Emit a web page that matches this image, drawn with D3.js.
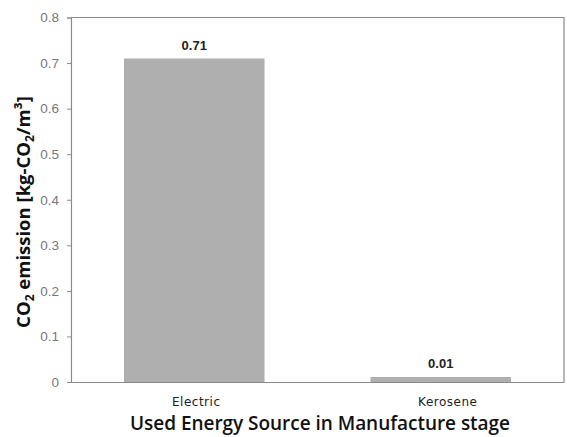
<!DOCTYPE html>
<html><head><meta charset="utf-8">
<script src="https://cdn.jsdelivr.net/npm/d3@7"></script>
<style>body{margin:0;background:#fff;} svg{display:block;}</style>
</head><body>
<svg id="c" width="567" height="437"></svg>
<script>
const categories = ["Electric", "Kerosene"];
const values = [0.71, 0.011];
const valueLabels = ["0.71", "0.01"];
const yTicks = [0, 0.1, 0.2, 0.3, 0.4, 0.5, 0.6, 0.7, 0.8];

const svg = d3.select("#c");
const m = {left: 71, top: 17.5, right: 564, bottom: 382};
const x = d3.scaleBand().domain(categories).range([m.left, m.right]).paddingInner(0.43).paddingOuter(0.215);
const y = d3.scaleLinear().domain([0, 0.8]).range([m.bottom, m.top]);

svg.append("path").attr("d", `M${m.left},${m.top}H${m.right}V${m.bottom}`)
  .attr("fill", "none").attr("stroke", "#8a8a8a").attr("stroke-width", 1.2);

svg.selectAll("rect.bar").data(categories).enter().append("rect")
  .attr("class", "bar")
  .attr("x", d => x(d))
  .attr("width", x.bandwidth())
  .attr("y", (d, i) => y(values[i]))
  .attr("height", (d, i) => y(0) - y(values[i]))
  .attr("fill", "#afafaf");

const ya = svg.append("g").attr("transform", `translate(${m.left},0)`)
  .call(d3.axisLeft(y).tickValues(yTicks).tickSize(4).tickPadding(8).tickFormat(d => d === 0 ? "0" : d3.format(".1f")(d)));
ya.select(".domain").attr("stroke", "#8a8a8a").attr("stroke-width", 1.2);
ya.selectAll(".tick line").attr("stroke", "#8a8a8a");
ya.selectAll(".tick text").attr("fill", "#777").attr("font-size", 13.5).attr("font-family", "Liberation Sans, Arial, sans-serif");

const xa = svg.append("g").attr("transform", `translate(0,${m.bottom})`)
  .call(d3.axisBottom(x).tickSize(0).tickPadding(0));
xa.select(".domain").attr("stroke", "#8a8a8a").attr("stroke-width", 1.2);
xa.selectAll(".tick text").attr("fill", "#222").attr("font-size", 12)
  .attr("font-family", "DejaVu Sans, sans-serif").attr("letter-spacing", 0.5)
  .attr("dy", 0).attr("y", 24).attr("dx", (d, i) => i === 1 ? 7 : 2);

svg.selectAll("text.vl").data(categories).enter().append("text")
  .attr("class", "vl")
  .attr("x", d => x(d) + x.bandwidth() / 2)
  .attr("y", (d, i) => y(values[i]) - 9)
  .attr("text-anchor", "middle")
  .attr("font-size", 13).attr("font-weight", "bold")
  .attr("font-family", "Liberation Sans, Arial, sans-serif").attr("fill", "#222")
  .text((d, i) => valueLabels[i]);

svg.append("text").attr("x", 320).attr("y", 430).attr("text-anchor", "middle")
  .attr("font-size", 19).attr("font-weight", 600).attr("font-family", "Open Sans, sans-serif").attr("fill", "#111")
  .attr("textLength", 380).attr("lengthAdjust", "spacing")
  .text("Used Energy Source in Manufacture stage");

const yl = svg.append("text").attr("transform", "translate(30,212) rotate(-90)").attr("text-anchor", "middle")
  .attr("font-size", 18.5).attr("font-weight", "bold").attr("font-family", "Open Sans, sans-serif").attr("fill", "#111");
yl.append("tspan").text("CO");
yl.append("tspan").attr("font-size", 12).attr("dy", 4).text("2");
yl.append("tspan").attr("dy", -4).text(" emission [kg-CO");
yl.append("tspan").attr("font-size", 12).attr("dy", 4).text("2");
yl.append("tspan").attr("dy", -4).text("/m³]");
</script>
</body></html>
